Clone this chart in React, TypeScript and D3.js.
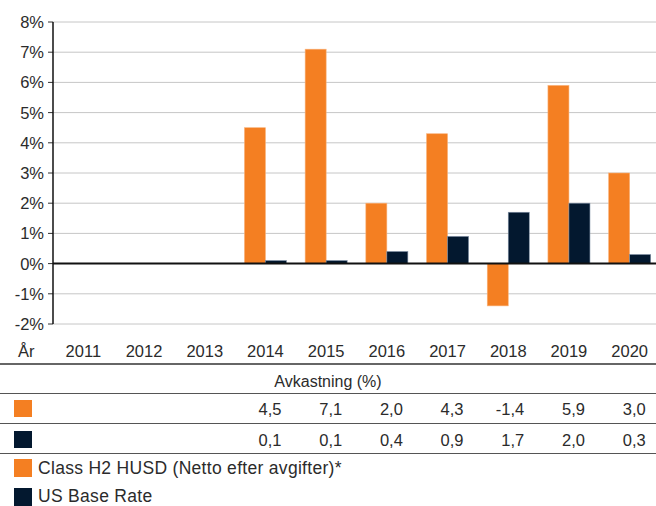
import React from 'react';
import * as d3 from 'd3';

// data
const years = ['2011', '2012', '2013', '2014', '2015', '2016', '2017', '2018', '2019', '2020'];
const fundReturns: (number | null)[] = [null, null, null, 4.5, 7.1, 2.0, 4.3, -1.4, 5.9, 3.0];
const baseRate: (number | null)[] = [null, null, null, 0.1, 0.1, 0.4, 0.9, 1.7, 2.0, 0.3];
const yTicks = [-2, -1, 0, 1, 2, 3, 4, 5, 6, 7, 8];
const seriesNames = ['Class H2 HUSD (Netto efter avgifter)*', 'US Base Rate'];
const seriesColors = ['#F47F22', '#03182F'];
const tableTitle = 'Avkastning (%)';
const yearLabel = 'År';

const W = 656;
const H = 506;
const font = '"Liberation Sans", Arial, Helvetica, sans-serif';
const textColor = '#2b2b2b';

export default function App() {
  const x0 = d3.scaleBand<string>().domain(years).range([53, 660]);
  const x1 = d3.scaleBand<number>().domain([0, 1]).range([0, x0.bandwidth()]).paddingOuter(0.445);
  const y = d3.scaleLinear().domain([-2, 8]).range([324, 22]);
  const series = [fundReturns, baseRate];
  const fmt = (v: number) => v.toFixed(1).replace('.', ',');
  const rowY = [415, 446];

  return (
    <svg width={W} height={H} style={{ position: 'absolute', left: 0, top: 0, fontFamily: font }}>
      <rect width={W} height={H} fill="#fff" />
      {/* gridlines */}
      {yTicks.map(t => (
        <g key={t}>
          {t !== 0 && (
            <line x1={53} x2={W} y1={y(t)} y2={y(t)} stroke="#c6c6c6" strokeWidth={1} />
          )}
          <line x1={48} x2={53} y1={y(t)} y2={y(t)} stroke="#333" strokeWidth={1} />
          <text x={44} y={y(t)} dy="0.36em" textAnchor="end" fontSize={16.5} fill={textColor}>
            {t}%
          </text>
        </g>
      ))}
      {/* bars */}
      {series.map((vals, si) =>
        vals.map((v, i) =>
          v == null ? null : (
            <rect
              key={si + '-' + i}
              x={(x0(years[i]) ?? 0) + (x1(si) ?? 0)}
              y={y(Math.max(0, v))}
              width={x1.bandwidth()}
              height={Math.abs(y(v) - y(0))}
              fill={seriesColors[si]}
              stroke={si === 1 ? '#7d8ea3' : '#f9b27a'}
              strokeWidth={0.6}
            />
          )
        )
      )}
      {/* axes */}
      <line x1={53} x2={W} y1={y(0)} y2={y(0)} stroke="#111" strokeWidth={2} />
      <line x1={53} x2={53} y1={y(8)} y2={y(-2)} stroke="#111" strokeWidth={1.5} />
      {/* x labels */}
      <text x={18} y={357} fontSize={16.5} fill={textColor}>{yearLabel}</text>
      {years.map(yr => (
        <text key={yr} x={(x0(yr) ?? 0) + x0.bandwidth() / 2} y={357} textAnchor="middle" fontSize={16.5} fill={textColor}>
          {yr}
        </text>
      ))}
      {/* table */}
      <line x1={0} x2={W} y1={364} y2={364} stroke="#333" strokeWidth={1.5} />
      <text x={328} y={387} textAnchor="middle" fontSize={16} fill={textColor}>{tableTitle}</text>
      <line x1={0} x2={W} y1={393.5} y2={393.5} stroke="#555" strokeWidth={1} />
      <line x1={0} x2={W} y1={423.5} y2={423.5} stroke="#555" strokeWidth={1} />
      <line x1={0} x2={W} y1={453.5} y2={453.5} stroke="#555" strokeWidth={1} />
      {series.map((vals, si) => (
        <g key={'row' + si}>
          <rect x={14} y={rowY[si] - 15} width={18} height={17} fill={seriesColors[si]} />
          {vals.map((v, i) =>
            v == null ? null : (
              <text
                key={i}
                x={(x0(years[i]) ?? 0) + x0.bandwidth() / 2 + 16}
                y={rowY[si]}
                textAnchor="end"
                fontSize={16.5}
                fill={textColor}
              >
                {fmt(v)}
              </text>
            )
          )}
        </g>
      ))}
      {/* legend */}
      {seriesNames.map((name, si) => (
        <g key={name}>
          <rect x={14} y={459 + si * 29} width={18} height={18} fill={seriesColors[si]} />
          <text x={38} y={474 + si * 28} fontSize={17.5} letterSpacing={0.3} fill={textColor}>{name}</text>
        </g>
      ))}
    </svg>
  );
}
